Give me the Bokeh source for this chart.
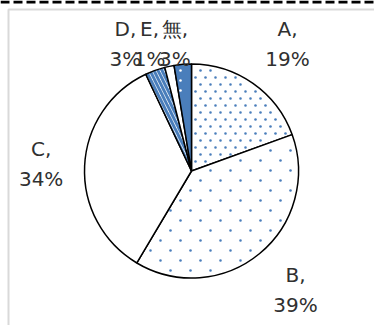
import math
from bokeh.plotting import figure
from bokeh.models import Range1d
from bokeh.core.properties import value
from bokeh.embed import file_html
from bokeh.resources import INLINE

# ---- data ----
categories = ["A", "B", "C", "D", "E", "無"]
shares = [19.4, 38.9, 34.3, 3.0, 1.4, 2.6]

# ---- layout (screen pixels) ----
W, H = 374, 325
CX, CY, R = 191, 170.5, 107
LAB_R = 128          # anchor radius of data labels
LAB_W, LAB_H = 45, 54
TOP_LIMIT = 43       # labels kept inside plot area
BLUE = "#4A7EBB"
FONT = "DejaVu Sans"

# per-slice styles
fill = ["white", "white", "white", "white", "white", BLUE]
hatch = [" ", " ", " ", "\\", " ", " "]
# dot textures: (column step, row step, row stagger, dot colour) or None
dots = [(10, 7, 5, BLUE), (20, 10, 10, BLUE), None, None, None, (10, 10, 0, "white")]

total = sum(shares)
fracs = [s / total for s in shares]
cum = [0.0]
for f in fracs:
    cum.append(cum[-1] + f)

p = figure(width=W, height=H, output_backend="svg", toolbar_location=None,
           x_range=Range1d(0, W), y_range=Range1d(0, H),
           x_axis_type=None, y_axis_type=None, min_border=0,
           background_fill_color="white", border_fill_color="white")
p.outline_line_color = None
p.grid.visible = False

# frame of the chart area
p.line(x=[0, W], y=[H - 1.5, H - 1.5], line_color="black", line_width=3, line_dash="9 4")
p.line(x=[8, 8, W], y=[0, H - 9, H - 9], line_color="#D9D9D9", line_width=2)


def texture_points(t0, t1, sx, sy, off):
    """Grid points (screen px) lying inside the wedge t0..t1 (clockwise from top)."""
    xs, ys = [], []
    row = 0
    y = 0.0
    while y < H:
        x = (off if row % 2 else 0) + 0.0
        while x < W:
            dx, dy = x - CX, CY - y
            rr = math.hypot(dx, dy)
            if 3 < rr < R - 2.5:
                th = math.atan2(dx, dy) % (2 * math.pi)
                if t0 <= th <= t1:
                    if rr * math.sin(th - t0) > 2 and rr * math.sin(t1 - th) > 2:
                        xs.append(x)
                        ys.append(H - y)
            x += sx
        y += sy
        row += 1
    return xs, ys


for i in range(len(fracs)):
    p.wedge(x=CX, y=H - CY, radius=R,
            start_angle=math.pi / 2 - 2 * math.pi * cum[i],
            end_angle=math.pi / 2 - 2 * math.pi * cum[i + 1],
            direction="clock", fill_color=fill[i],
            hatch_pattern=hatch[i], hatch_color=BLUE, hatch_scale=8,
            hatch_weight=3, line_color="black", line_width=1.5)
    if dots[i]:
        sx, sy, off, col = dots[i]
        px, py = texture_points(2 * math.pi * cum[i], 2 * math.pi * cum[i + 1], sx, sy, off)
        p.scatter(x=px, y=py, size=2.6, marker="circle", fill_color=col, line_color=None)

# data labels
lx, ly, lt = [], [], []
for i, c in enumerate(categories):
    mid = 2 * math.pi * (cum[i] + cum[i + 1]) / 2
    s, co = math.sin(mid), math.cos(mid)
    ax = CX + LAB_R * s
    ay = CY - LAB_R * co
    k = max(-1.0, min(1.0, s / 0.3))
    x = ax + k * LAB_W / 2
    y = ay - co * LAB_H / 2
    y = max(y, TOP_LIMIT)
    lx.append(x)
    ly.append(H - y)
    lt.append(f"{c},\n{round(fracs[i] * 100)}%")

p.text(x=lx, y=ly, text=lt, text_align="center", text_baseline="middle",
       text_font=value(FONT), text_font_size="20px", text_color="#303030",
       text_line_height=1.25)

open("out.html", "w").write(file_html(p, INLINE))
